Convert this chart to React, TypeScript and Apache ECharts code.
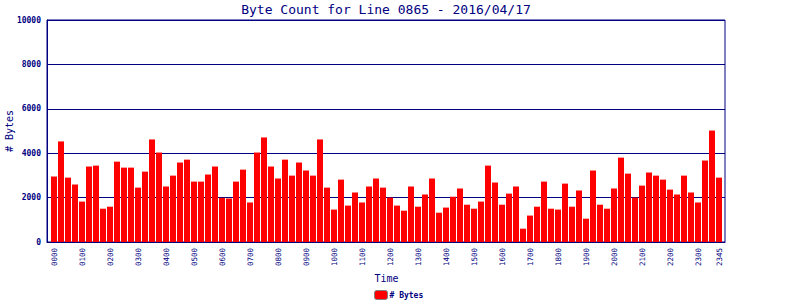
import React, { useEffect, useRef } from "react";
import * as echarts from "echarts";

const titleText = "Byte Count for Line 0865 - 2016/04/17";
const seriesName = "# Bytes";
const hours = ["00","01","02","03","04","05","06","07","08","09","10","11","12","13","14","15","16","17","18","19","20","21","22","23"];
const quarters = ["00","15","30","45"];
const categories: string[] = [];
hours.forEach((h) => quarters.forEach((q) => categories.push(h + q)));

const byteCounts = [
  2950, 4530, 2900, 2590, 1820, 3400, 3440, 1500, 1590, 3620, 3350, 3350, 2450, 3170, 4620, 4030,
  2500, 2990, 3580, 3710, 2720, 2720, 3040, 3400, 1990, 1960, 2720, 3260, 1780, 4030, 4710, 3400,
  2860, 3710, 2990, 3580, 3220, 2990, 4620, 2450, 1460, 2810, 1640, 2230, 1780, 2500, 2860, 2450,
  2000, 1640, 1410, 2500, 1590, 2140, 2860, 1320, 1550, 2040, 2410, 1680, 1500, 1820, 3440, 2680,
  1680, 2180, 2500, 600, 1190, 1590, 2720, 1500, 1460, 2630, 1590, 2320, 1050, 3220, 1680, 1500,
  2410, 3800, 3080, 2000, 2540, 3130, 2990, 2810, 2360, 2140, 2990, 2230, 1780, 3670, 5020, 2900,
];

const yTicks = [0, 2000, 4000, 6000, 8000, 10000];
const NAVY = "#000080";
const MONO = "DejaVu Sans Mono";

export default function App() {
  const ref = useRef<HTMLDivElement>(null);
  useEffect(() => {
    document.body.style.margin = "0";
    const chart = echarts.init(ref.current!, null, { renderer: "svg" });
    chart.setOption({
      animation: false,
      backgroundColor: "#ffffff",
      graphic: [
        {
          type: "text",
          x: 386,
          y: 9,
          style: {
            text: titleText,
            fill: NAVY,
            font: `13px ${MONO}`,
            textAlign: "center",
            textVerticalAlign: "middle",
          },
        },
      ],
      legend: {
        left: 374,
        top: 290,
        padding: 0,
        itemWidth: 13,
        itemHeight: 9,
        itemGap: 4,
        data: [seriesName],
        itemStyle: { borderColor: "#808080", borderWidth: 1 },
        textStyle: { color: NAVY, fontFamily: MONO, fontSize: 8, fontWeight: "bold", padding: [0, 0, 0, -3] },
      },
      grid: [
        {
          left: 47,
          top: 20,
          width: 678,
          height: 222,
          show: true,
          borderColor: NAVY,
          borderWidth: 1,
          backgroundColor: "transparent",
          containLabel: false,
          outerBoundsMode: "none",
        },
        {
          left: 50.5,
          top: 20,
          width: 672,
          height: 222,
          containLabel: false,
          outerBoundsMode: "none",
        },
      ],
      xAxis: [
        {
          gridIndex: 0,
          type: "value",
          min: 0,
          max: 1,
          axisLine: { show: true, lineStyle: { color: NAVY, width: 1 } },
          axisTick: { show: false },
          axisLabel: { show: false },
          splitLine: { show: false },
        },
        {
          gridIndex: 1,
          type: "category",
          data: categories,
          boundaryGap: true,
          axisLine: { show: false },
          axisTick: { show: false },
          axisLabel: {
            interval: (idx: number) => idx % 4 === 0 || idx === categories.length - 1,
            rotate: 90,
            margin: 6,
            color: NAVY,
            fontFamily: MONO,
            fontSize: 7.5,
          },
          name: "Time",
          nameLocation: "middle",
          nameGap: 31,
          nameMoveOverlap: false,
          nameTextStyle: { color: NAVY, fontFamily: MONO, fontSize: 10 },
        },
      ],
      yAxis: [
        {
          gridIndex: 0,
          type: "value",
          min: yTicks[0],
          max: yTicks[yTicks.length - 1],
          interval: yTicks[1] - yTicks[0],
          axisLine: { show: true, lineStyle: { color: NAVY, width: 1 } },
          axisTick: { show: false },
          axisLabel: {
            margin: 6,
            color: NAVY,
            fontFamily: MONO,
            fontSize: 8,
            fontWeight: "bold",
            formatter: (v: number) => String(v),
          },
          splitLine: { show: true, lineStyle: { color: NAVY, width: 1 } },
          name: seriesName,
          nameLocation: "middle",
          nameRotate: 90,
          nameGap: 33,
          nameMoveOverlap: false,
          nameTextStyle: { color: NAVY, fontFamily: MONO, fontSize: 10 },
        },
        {
          gridIndex: 1,
          type: "value",
          min: yTicks[0],
          max: yTicks[yTicks.length - 1],
          show: false,
          splitLine: { show: false },
        },
      ],
      series: [
        {
          name: seriesName,
          type: "bar",
          xAxisIndex: 1,
          yAxisIndex: 1,
          data: byteCounts,
          barWidth: 6,
          itemStyle: { color: "#ff0000" },
        },
      ],
    });
    return () => chart.dispose();
  }, []);
  return <div ref={ref} style={{ width: 800, height: 300 }} />;
}
